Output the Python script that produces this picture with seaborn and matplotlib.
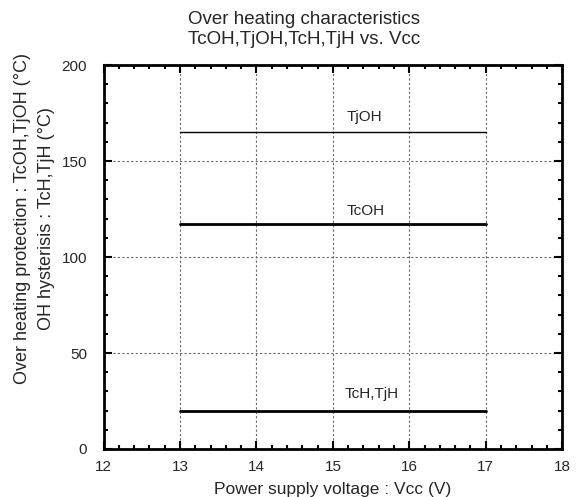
import matplotlib
matplotlib.use("Agg")
import matplotlib.pyplot as plt
import seaborn as sns
import pandas as pd
from matplotlib.ticker import MultipleLocator

# Data
vcc = [13, 17]
tjoh = [165, 165]
tcoh = [117, 117]
tch_tjh = [20, 20]
series_names = ["TjOH", "TcOH", "TcH,TjH"]
label_pos = [(15.41, 171), (15.43, 122), (15.51, 26.5)]
line_widths = [1.0, 2.0, 2.0]

sns.set_style("white")
plt.rcParams['font.family'] = ['Liberation Sans', 'DejaVu Sans']

fig = plt.figure(figsize=(5.79, 4.97), dpi=100)
ax = fig.add_axes([0.179, 0.0966, 0.792, 0.7725])

rows = []
for name, vals in zip(series_names, [tjoh, tcoh, tch_tjh]):
    for v, t in zip(vcc, vals):
        rows.append({"Vcc": v, "T": t, "series": name})
df = pd.DataFrame(rows)

for name, lw in zip(series_names, line_widths):
    sub = df[df.series == name]
    sns.lineplot(data=sub, x="Vcc", y="T", ax=ax, color="black", linewidth=lw,
                 legend=False)

for name, (x, y) in zip(series_names, label_pos):
    ax.text(x, y, name, ha="center", va="baseline", fontsize=11)

ax.set_xlim(12, 18)
ax.set_ylim(0, 200)
ax.xaxis.set_major_locator(MultipleLocator(1))
ax.xaxis.set_minor_locator(MultipleLocator(0.2))
ax.yaxis.set_major_locator(MultipleLocator(50))
ax.yaxis.set_minor_locator(MultipleLocator(10))
ax.tick_params(which="both", direction="in", top=True, right=True, bottom=True, left=True,
               labelsize=11, width=1.5, color="black")
ax.tick_params(which="major", length=6)
ax.tick_params(which="minor", length=3)
ax.tick_params(axis="x", which="major", pad=8)
ax.tick_params(axis="y", which="major", pad=12)
ax.grid(True, which="major", linestyle=(0, (2, 2)), color="#666666", linewidth=0.8)
for s in ax.spines.values():
    s.set_linewidth(2)
    s.set_color("black")

ax.set_xlabel("Power supply voltage : Vcc (V)", fontsize=12.5)
ax.xaxis.set_label_coords(0.5, -0.085)
ax.set_ylabel("Over heating protection : TcOH,TjOH (°C)\nOH hysterisis : TcH,TjH (°C)",
              fontsize=13, linespacing=1.55)
ax.yaxis.set_label_coords(-0.106, 0.60)
fig.text(0.525, 0.978, "Over heating characteristics\nTcOH,TjOH,TcH,TjH vs. Vcc",
         ha="center", va="top", fontsize=13.5, linespacing=1.25)

fig.savefig("out.png", dpi=100)
